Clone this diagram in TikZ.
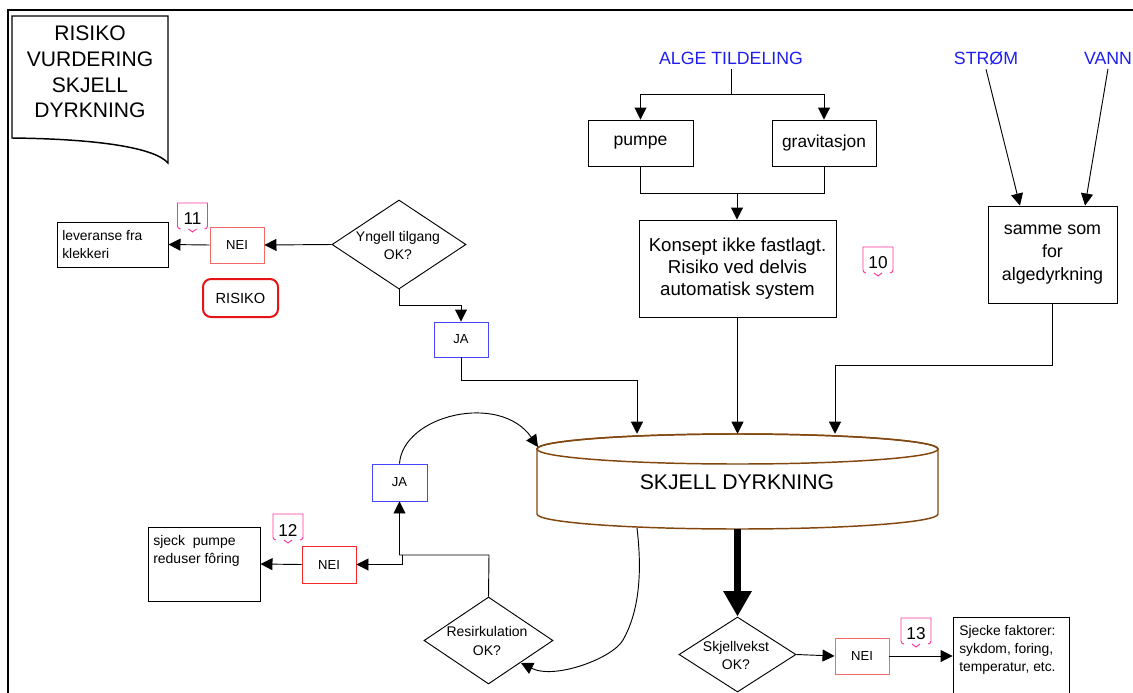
\documentclass[tikz,border=0pt]{standalone}
\usepackage{fontspec}
\setmainfont{Liberation Sans}
\usetikzlibrary{shapes.geometric,arrows.meta,calc}
\definecolor{bluetxt}{RGB}{30,30,240}
\definecolor{jablue}{RGB}{70,70,255}
\definecolor{neilight}{RGB}{245,105,105}
\definecolor{neired}{RGB}{250,40,40}
\definecolor{riskred}{RGB}{230,20,20}
\definecolor{callpink}{RGB}{255,51,160}
\definecolor{cylbrown}{RGB}{130,70,15}
\newcommand\setfs[2]{\fontsize{#1}{#2}\selectfont}
\newcommand\calloutbox[3]{%
  \node[font=\setfs{12.9}{14}, inner sep=0pt] (#1) at #2 {#3};
  \draw[callpink, line width=0.7pt] ([shift={(-15,7)}]#1.center) -- ([shift={(-15,-16)}]#1.center) -- ([shift={(15,-16)}]#1.center) -- ([shift={(15,7)}]#1.center) to[out=270,in=0] ([shift={(12,10)}]#1.center);
  \draw[callpink, line width=0.7pt] ([shift={(-15,7)}]#1.center) to[out=270,in=180] ([shift={(-12,10)}]#1.center);
  \draw[callpink, line width=0.7pt] ([shift={(-4,10)}]#1.center) -- ([shift={(0,13)}]#1.center) -- ([shift={(4,10)}]#1.center);
}
\begin{document}
\begin{tikzpicture}[x=0.75pt,y=-0.75pt,
  box/.style={draw, line width=0.7pt, inner sep=0pt, align=center},
  dia/.style={draw, diamond, line width=0.7pt, inner sep=0pt},
  conn/.style={line width=0.7pt},
  arr/.style={conn, -{Triangle[length=9pt,width=9pt]}},
  bigarr/.style={line width=5.5pt, -{Triangle[length=19pt,width=20pt]}},
  neibox/.style={box, draw=neilight, font=\setfs{9.8}{12}, minimum width=40.5pt, minimum height=27pt},
  jabox/.style={box, draw=jablue, font=\setfs{9.8}{12}, minimum width=40.5pt, minimum height=26.25pt},
  bluelabel/.style={text=bluetxt, font=\setfs{13.3}{16}},
  midtext/.style={font=\setfs{14}{16.5}, align=center},
  smalltext/.style={font=\setfs{10.5}{13.5}, align=center, inner sep=0pt}
]
\useasboundingbox (0,0) rectangle (1133,693);
% frame
\draw[line width=1.5pt] (8,693) -- (8,10) -- (1133,10);
% title document shape
\draw[line width=1.1pt, fill=white] (12,16) -- (168,16) -- (168,163) .. controls (155,148) and (100,139) .. (12,138) -- cycle;
\node[align=center, font=\setfs{15.8}{19.2}] (title) at (90,72) {RISIKO\\VURDERING\\SKJELL\\DYRKNING};

% top sources
\node[bluelabel] (alge) at (731,58) {ALGE TILDELING};
\node[bluelabel] (strom) at (986,58) {STRØM};
\node[bluelabel] (vann) at (1108,58) {VANN};

\node[box, font=\setfs{13.2}{16}, minimum width=78.75pt, minimum height=34.5pt] (pumpe) at (640.5,143) {pumpe};
\node[box, font=\setfs{13}{16}, minimum width=78pt, minimum height=34.5pt] (grav) at (824,143) {gravitasjon};
\node[box, midtext, minimum width=147.75pt, minimum height=72.75pt] (konsept) at (737.5,268.5) {Konsept ikke fastlagt.\\Risiko ved delvis\\automatisk system};
\node[box, font=\setfs{13.4}{17.25}, minimum width=96.75pt, minimum height=72.75pt] (samme) at (1052.5,254.5) {samme som\\for\\algedyrkning};

\coordinate (algejoin) at (731,94);
\coordinate (merge) at (737,193);
\draw[conn] (alge.south) -- (algejoin);
\draw[arr] (algejoin) -| (pumpe.north);
\draw[arr] (algejoin) -| (grav.north);
\draw[conn] (pumpe.south) |- (merge);
\draw[conn] (grav.south) |- (merge);
\draw[arr] (merge) -- (merge |- konsept.north);

\draw[arr] (strom.south) -- ([xshift=-24.4pt]samme.north);
\draw[arr] (vann.south) -- ([xshift=24.4pt]samme.north);

\calloutbox{c10}{(878,263)}{10}

% upper left
\node[box, minimum width=83.25pt, minimum height=33.75pt] (lev) at (112.5,244.5) {};
\node[anchor=west, align=left, font=\setfs{10.4}{13.5}, inner sep=0pt] (levt) at (62,245) {leveranse fra\\klekkeri};
\node[neibox] (nei1) at (237,245) {NEI};
\node[box, draw=riskred, line width=1.5pt, rounded corners=6pt, font=\setfs{11}{14}, minimum width=56.25pt, minimum height=28.5pt] (risiko) at (240.5,298) {RISIKO};
\node[dia, minimum width=100.5pt, minimum height=66.75pt] (yng) at (399,244.5) {};
\node[smalltext] (yngt) at (398,245) {Yngell tilgang\\OK?};
\node[jabox] (ja1) at (461,339.5) {JA};
\calloutbox{c11}{(192.5,219)}{11}

\draw[arr] (yng.west) -- (nei1.east);
\draw[arr] (nei1.west) -- (lev.east);
\draw[arr] (yng.south) -- ++(0,16) -| (ja1.north);

% cylinder
\node[minimum width=300.75pt, minimum height=71.25pt, inner sep=0pt] (cyl) at (737.5,481.5) {};
\draw[cylbrown, line width=1.1pt, fill=white] (537,449) -- (537,514) arc[start angle=180,end angle=360,x radius=150.375pt,y radius=11.25pt] -- (938,449) arc[start angle=0,end angle=180,x radius=150.375pt,y radius=11.25pt] -- cycle;
\draw[cylbrown, line width=1.1pt] (737.5,449) ellipse [x radius=150.375pt, y radius=11.25pt];
\node[font=\setfs{15.9}{19}] (cylt) at (737,482) {SKJELL DYRKNING};
\coordinate (cyltl) at (538,447);
\coordinate (cylb) at (637,528);

\coordinate (sjoin) at (835,365);
\coordinate (jjoin) at (637,380);
\draw[arr] (konsept.south) -- (konsept.south |- cyl.north);
\draw[arr] (samme.south) |- (sjoin) -- (sjoin |- cyl.north);
\draw[arr] (ja1.south) |- (jjoin) -- (jjoin |- cyl.north);

% lower left
\node[jabox, minimum width=41.25pt, minimum height=27.75pt] (ja2) at (399.5,482.5) {JA};
\node[neibox, draw=neired, minimum height=27.75pt] (nei2) at (329,564.5) {NEI};
\node[box, minimum width=84pt, minimum height=55.5pt] (sjeck) at (204,564) {};
\node[anchor=west, align=left, font=\setfs{10.5}{13.5}, inner sep=0pt] (sjeckt) at (153,551) {sjeck\ \ pumpe\\reduser fôring};
\node[dia, minimum width=96.75pt, minimum height=65.25pt] (res) at (488.5,640.5) {};
\node[smalltext, font=\setfs{10.5}{14.25}] (rest) at (487,641) {Resirkulation\\OK?};
\calloutbox{c12}{(288,530)}{12}

\coordinate (rj) at (489,555);
\coordinate (rk) at (402,555);
\draw[arr] (res.north) -- (rj) -| (ja2.south);
\draw[arr] (rk) |- (nei2.east);
\draw[arr] (nei2.west) -- (sjeck.east);
\draw[arr] (ja2.north) .. controls (403,415) and (500,392) .. (cyltl);
\draw[arr] (cylb) .. controls (642,570) and (640,610) .. (623,640) .. controls (613,658) and (555,680) .. (521,663);

% bottom middle
\node[dia, minimum width=87.75pt, minimum height=56.25pt] (skj) at (737.5,654.5) {};
\node[smalltext] (skjt) at (736,655) {Skjellvekst\\OK?};
\node[neibox] (nei3) at (862,656) {NEI};
\node[box, minimum width=87pt, minimum height=75pt] (sjecke) at (1011,667) {};
\node[anchor=west, align=left, font=\setfs{10.4}{13.5}, inner sep=0pt] (sjeckt2) at (959,650) {Sjecke faktorer:\\sykdom, foring,\\temperatur, etc.};
\calloutbox{c13}{(916,634)}{13}

\draw[bigarr] (cyl.south) -- (skj.north);
\draw[arr] (skj.east) -- (nei3.west);
\draw[arr] (nei3.east) -- (nei3.east -| sjecke.west);
\end{tikzpicture}
\end{document}
